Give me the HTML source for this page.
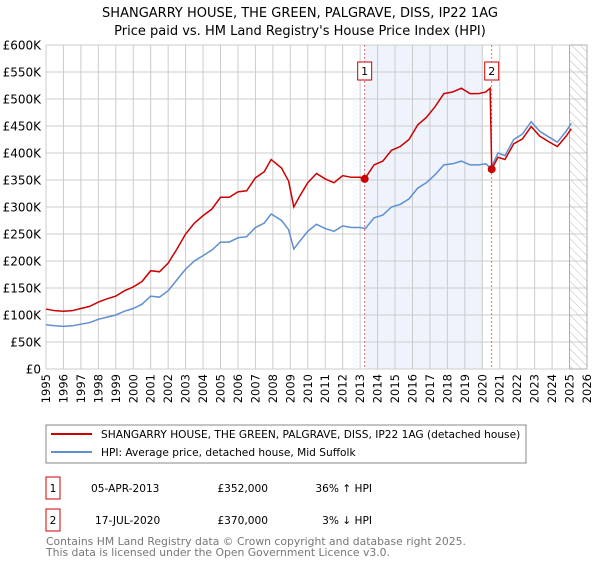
<!DOCTYPE html>
<html><head><meta charset="utf-8"><style>
body{margin:0;background:#fff;font-family:"Liberation Sans","DejaVu Sans",sans-serif;}
svg text{font-family:"DejaVu Sans","Liberation Sans",sans-serif;}
</style></head><body>
<svg id="c" width="600" height="560" viewBox="0 0 600 560" xmlns="http://www.w3.org/2000/svg">
<defs><pattern id="hatch" width="6" height="6" patternUnits="userSpaceOnUse" patternTransform="rotate(-45)"><line x1="0" y1="0" x2="0" y2="6" stroke="#bbb" stroke-width="1"/></pattern></defs>
<text x="300" y="17" text-anchor="middle" font-size="13">SHANGARRY HOUSE, THE GREEN, PALGRAVE, DISS, IP22 1AG</text>
<text x="300" y="35" text-anchor="middle" font-size="13">Price paid vs. HM Land Registry's House Price Index (HPI)</text>
<g id="plot"></g>
<rect x="46" y="425" width="480" height="38" fill="#fff" stroke="#888"/>
<line x1="51" y1="434" x2="92" y2="434" stroke="#cc0000" stroke-width="2"/>
<text x="101" y="438" font-size="10.6">SHANGARRY HOUSE, THE GREEN, PALGRAVE, DISS, IP22 1AG (detached house)</text>
<line x1="51" y1="452" x2="92" y2="452" stroke="#5f8fd0" stroke-width="2"/>
<text x="101" y="456" font-size="10.6">HPI: Average price, detached house, Mid Suffolk</text>
<g>
<rect x="46" y="477" width="14" height="22" fill="#fff" stroke="#cc0000"/>
<text x="53" y="492" font-size="10.6" text-anchor="middle">1</text>
<text x="91" y="492" font-size="10.6">05-APR-2013</text>
<text x="268" y="492" font-size="10.6" text-anchor="end">£352,000</text>
<text x="372" y="492" font-size="10.6" text-anchor="end">36% ↑ HPI</text>
</g>
<g>
<rect x="46" y="509" width="14" height="22" fill="#fff" stroke="#cc0000"/>
<text x="53" y="524" font-size="10.6" text-anchor="middle">2</text>
<text x="95" y="524" font-size="10.6">17-JUL-2020</text>
<text x="268" y="524" font-size="10.6" text-anchor="end">£370,000</text>
<text x="372" y="524" font-size="10.6" text-anchor="end">3% ↓ HPI</text>
</g>
<text x="46" y="545" font-size="10.8" fill="#777">Contains HM Land Registry data © Crown copyright and database right 2025.</text>
<text x="46" y="556" font-size="10.8" fill="#777">This data is licensed under the Open Government Licence v3.0.</text>
</svg>
<script>
const yTicks=[0,50,100,150,200,250,300,350,400,450,500,550,600];
const years=[1995,1996,1997,1998,1999,2000,2001,2002,2003,2004,2005,2006,2007,2008,2009,2010,2011,2012,2013,2014,2015,2016,2017,2018,2019,2020,2021,2022,2023,2024,2025,2026];
const hpiT=[1995.0,1995.5,1996,1996.5,1997,1997.5,1998,1998.5,1999,1999.5,2000,2000.5,2001,2001.5,2002,2002.5,2003,2003.5,2004,2004.5,2005,2005.5,2006,2006.5,2007,2007.5,2007.9,2008.5,2008.9,2009.2,2009.5,2010,2010.5,2011,2011.5,2012,2012.5,2013,2013.3,2013.8,2014.3,2014.8,2015.3,2015.8,2016.3,2016.8,2017.3,2017.8,2018.3,2018.8,2019.3,2019.8,2020.2,2020.5,2020.9,2021.3,2021.8,2022.3,2022.8,2023.3,2023.8,2024.3,2024.8,2025.1];
const hpiV=[82,80,79,80,83,86,92,96,100,107,112,120,135,133,145,165,185,200,210,220,235,235,243,245,262,270,287,275,258,222,235,255,268,260,255,265,262,262,260,280,285,300,305,315,335,345,360,378,380,385,378,378,380,372,400,395,425,435,458,440,430,420,440,455];
const priceT=[1995.0,1995.5,1996,1996.5,1997,1997.5,1998,1998.5,1999,1999.5,2000,2000.5,2001,2001.5,2002,2002.5,2003,2003.5,2004,2004.5,2005,2005.5,2006,2006.5,2007,2007.5,2007.9,2008.5,2008.9,2009.2,2009.5,2010,2010.5,2011,2011.5,2012,2012.5,2013,2013.26,2013.8,2014.3,2014.8,2015.3,2015.8,2016.3,2016.8,2017.3,2017.8,2018.3,2018.8,2019.3,2019.8,2020.2,2020.45,2020.54,2020.9,2021.3,2021.8,2022.3,2022.8,2023.3,2023.8,2024.3,2024.8,2025.1];
const priceV=[111,108,107,108,112,116,124,130,135,145,152,162,182,180,196,222,250,270,284,296,318,318,328,330,354,365,388,372,348,300,318,345,362,352,345,358,355,355,352,378,385,405,412,425,452,466,486,510,513,520,510,510,513,520,370,392,388,417,426,449,431,421,412,431,445];
const saleT=[2013.26,2020.54];
const saleV=[352,370];
const X0=46,X1=587,Y0=369,Y1=45;
const xs=t=>X0+(t-1995)/(2026-1995)*(X1-X0);
const ys=v=>Y0-v/600*(Y0-Y1);
const NS="http://www.w3.org/2000/svg";
const g=document.getElementById('plot');
function mk(tag,attrs){const e=document.createElementNS(NS,tag);for(const k in attrs)e.setAttribute(k,attrs[k]);g.appendChild(e);return e;}
let e=mk('rect',{x:xs(saleT[0]),y:Y1,width:xs(2020)-xs(saleT[0]),height:Y0-Y1,fill:'#eef3fc'});


years.forEach(y=>{const l=mk('line',{x1:xs(y),x2:xs(y),y1:Y1,y2:Y0,stroke:'#ccc','stroke-width':1});


const t=mk('text',{transform:`translate(${xs(y)+4},${Y0+5}) rotate(-90)`,'text-anchor':'end','font-size':11.5});
t.textContent=y;

});
yTicks.forEach(v=>{const l=mk('line',{x1:X0,x2:X1,y1:ys(v),y2:ys(v),stroke:'#ccc','stroke-width':1});


const t=mk('text',{x:X0-5,y:ys(v)+4.5,'text-anchor':'end','font-size':12});
t.textContent=v===0?'£0':'£'+v+'K';

});
e=mk('rect',{x:xs(2025),y:Y1,width:X1-xs(2025),height:Y0-Y1,fill:'url(#hatch)',stroke:'#999','stroke-width':0.6});


saleT.forEach((t,i)=>{const l=mk('line',{x1:xs(t),x2:xs(t),y1:Y1,y2:Y0,stroke:'#e05050','stroke-dasharray':'2,2','stroke-width':0.8});


const r=mk('rect',{x:xs(t)-7,y:62,width:14,height:18,fill:'#fff',stroke:'#cc0000'});


const tx=mk('text',{x:xs(t),y:75,'text-anchor':'middle','font-size':11});
tx.textContent=i+1;

});
e=mk('polyline',{points:hpiT.map((t,i)=>xs(t)+','+ys(hpiV[i])).join(' '),fill:'none',stroke:'#5f8fd0','stroke-width':1.5});


e=mk('polyline',{points:priceT.map((t,i)=>xs(t)+','+ys(priceV[i])).join(' '),fill:'none',stroke:'#cc0000','stroke-width':1.5});


saleT.forEach((t,i)=>{const c=mk('circle',{cx:xs(t),cy:ys(saleV[i]),r:4,fill:'#cc0000'});

});
</script>
</body></html>
